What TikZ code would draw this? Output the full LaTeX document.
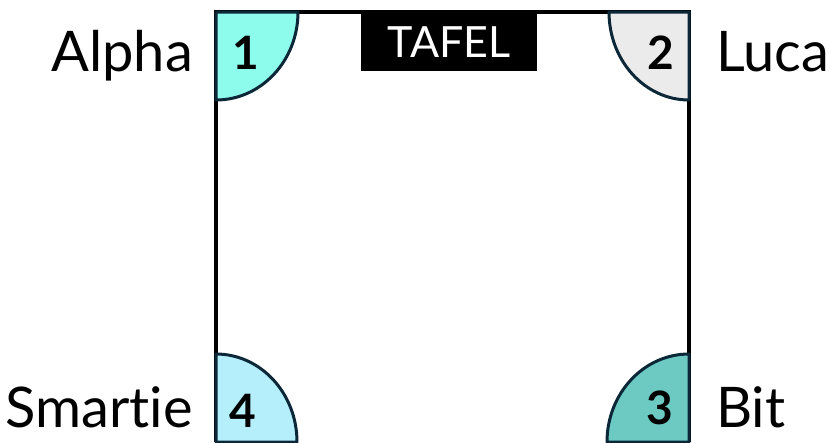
\documentclass[tikz,border=0pt]{standalone}
\usepackage{fontspec}
\setmainfont[Ligatures=NoCommon]{Lato}
\usepackage{tikz}
\usetikzlibrary{positioning}
\definecolor{seatink}{RGB}{12,40,56}
\definecolor{seataqua}{RGB}{142,252,236}
\definecolor{seatgray}{RGB}{235,235,235}
\definecolor{seatteal}{RGB}{108,202,195}
\definecolor{seatsky}{RGB}{181,239,252}
\tikzset{
  room/.style={draw=black,line width=3.2pt},
  seat/.style={draw=seatink,line width=3pt,line join=round},
  seatnum/.style={font=\fontsize{46}{50}\selectfont\bfseries,inner sep=0pt},
  pupil/.style={font=\fontsize{56}{62}\selectfont,inner sep=0pt},
  board/.style={fill=black,text=white,inner sep=0pt,minimum width=176pt,
    minimum height=58pt,font=\fontsize{43}{47}\selectfont}
}
\begin{document}
\begin{tikzpicture}[x=1pt,y=-1pt]
  \useasboundingbox (0,0) rectangle (829,442);
  \coordinate (nw) at (216,12);
  \coordinate (ne) at (689,12);
  \coordinate (se) at (689,442);
  \coordinate (sw) at (216,442);
  % the room
  \draw[room] (sw) -- (nw) -- (ne) -- (se);
  % seats in the corners
  \filldraw[seat,fill=seataqua] (nw) -- ++(82,0)
    arc[start angle=0,end angle=90,x radius=82,y radius=88] -- cycle;
  \filldraw[seat,fill=seatgray] (ne) -- ++(-80,0)
    arc[start angle=180,end angle=90,x radius=80,y radius=88] -- cycle;
  \filldraw[seat,fill=seatteal] (se) -- ++(0,-88)
    arc[start angle=-90,end angle=-180,x radius=82,y radius=88] -- cycle;
  \filldraw[seat,fill=seatsky] (sw) -- ++(0,-88)
    arc[start angle=-90,end angle=0,x radius=81,y radius=88] -- cycle;
  \node[seatnum] (n1) at (246,53) {1};
  \node[seatnum] (n2) at (661,53) {2};
  \node[seatnum] (n3) at (660,408) {3};
  \node[seatnum] (n4) at (243,411) {4};
  % board
  \node[board] (tafel) at (449,42) {TAFEL};
  % names
  \node[pupil,anchor=base east] (alpha) at (193,71) {Alpha};
  \node[pupil,anchor=base west] (luca) at (716,71) {Luca};
  \node[pupil,anchor=base west] (bit) at (716,427) {Bit};
  \node[pupil,anchor=base east] (smartie) at (193,427) {Smartie};
\end{tikzpicture}
\end{document}
